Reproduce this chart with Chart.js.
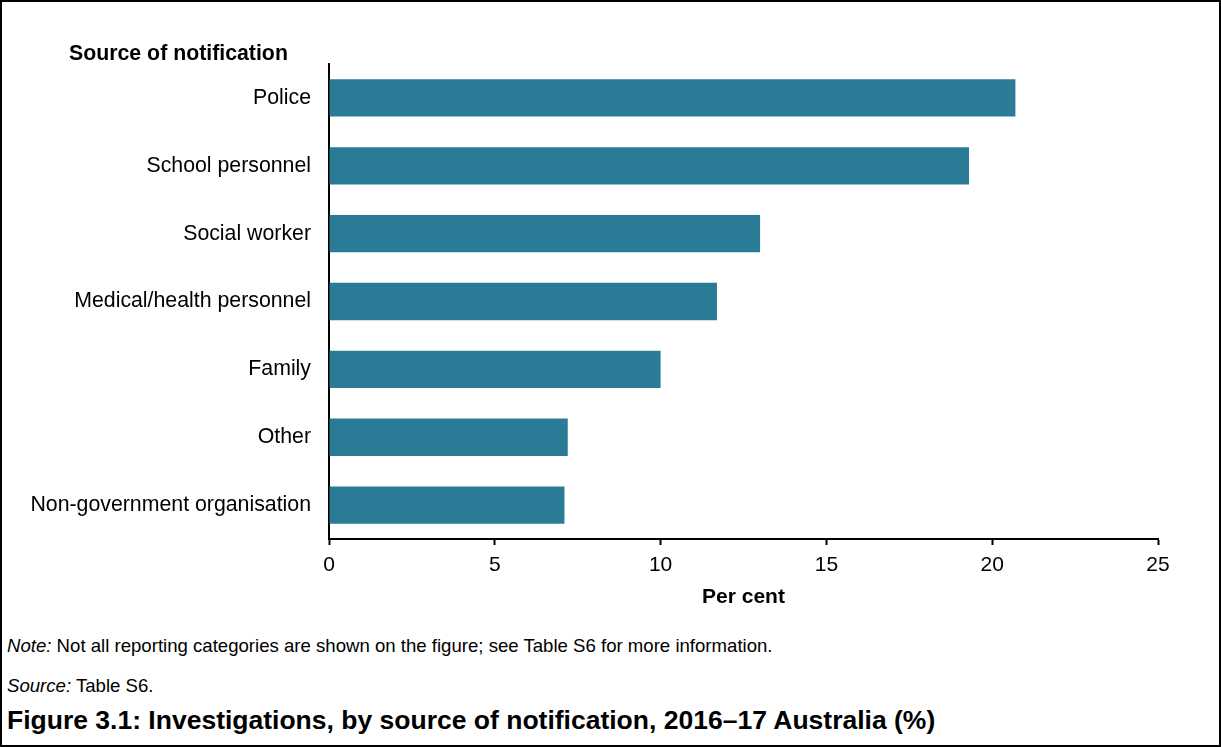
<!DOCTYPE html>
<html>
<head>
<meta charset="utf-8">
<script src="https://cdn.jsdelivr.net/npm/chart.js"></script>
<style>
    body { margin: 0; background: #fff; font-family: "Liberation Sans", Arial, sans-serif; }
    #frame {
        position: relative;
        width: 1221px;
        height: 747px;
        box-sizing: border-box;
        border: 2px solid #000;
    }
    #chartBox { position: absolute; left: -2px; top: -2px; width: 1221px; height: 620px; }
    #yTitle { position: absolute; left: 67px; top: 39px; font-size: 21.3px; font-weight: bold; }
    .note { position: absolute; left: 5px; font-size: 18.6px; }
    #caption { position: absolute; left: 5px; top: 703px; font-size: 26.5px; font-weight: bold; }
</style>
</head>
<body>
<div id="frame">
    <div id="chartBox"><canvas id="myChart"></canvas></div>
    <div id="yTitle">Source of notification</div>
    <div class="note" style="top: 633px;"><i>Note:</i> Not all reporting categories are shown on the figure; see Table S6 for more information.</div>
    <div class="note" style="top: 673px;"><i>Source:</i> Table S6.</div>
    <div id="caption">Figure 3.1: Investigations, by source of notification, 2016–17 Australia (%)</div>
</div>
<script>
// data
const sources = [
    "Police",
    "School personnel",
    "Social worker",
    "Medical/health personnel",
    "Family",
    "Other",
    "Non-government organisation",
];
const perCent = [20.7, 19.3, 13.0, 11.7, 10.0, 7.2, 7.1];
const xTicks = [0, 5, 10, 15, 20, 25];

const barColour = "#2a7b96";
const font = "'Liberation Sans', Arial, sans-serif";

const config = {
    type: "bar",
    data: {
        labels: sources,
        datasets: [
            {
                label: "Per cent",
                data: perCent,
                backgroundColor: barColour,
                borderWidth: 0,
                barPercentage: 0.55,
                categoryPercentage: 1,
            },
        ],
    },
    options: {
        indexAxis: "y",
        responsive: true,
        maintainAspectRatio: false,
        animation: false,
        layout: { padding: { top: 64, right: 63, left: 0, bottom: 0 } },
        plugins: {
            legend: { display: false },
            tooltip: { enabled: false },
        },
        scales: {
            x: {
                min: 0,
                max: 25,
                afterBuildTicks: (scale) => {
                    scale.ticks = xTicks.map((v) => ({ value: v }));
                },
                afterFit: (scale) => {
                    scale.height = 81;
                },
                grid: {
                    drawOnChartArea: false,
                    drawTicks: true,
                    tickLength: 6,
                    tickWidth: 2,
                    color: "#000",
                },
                border: { display: true, color: "#000", width: 2 },
                ticks: {
                    color: "#000",
                    padding: 8,
                    font: { family: font, size: 21 },
                },
                title: {
                    display: true,
                    text: "Per cent",
                    color: "#000",
                    padding: { top: 4, bottom: 10 },
                    font: { family: font, size: 21, weight: "bold" },
                },
            },
            y: {
                afterFit: (scale) => {
                    scale.width = 329;
                },
                grid: { display: false, drawTicks: false },
                border: { display: true, color: "#000", width: 2 },
                ticks: {
                    color: "#000",
                    padding: 18,
                    font: { family: font, size: 21.3 },
                },
            },
        },
    },
};

new Chart(document.getElementById("myChart"), config);
</script>
</body>
</html>
